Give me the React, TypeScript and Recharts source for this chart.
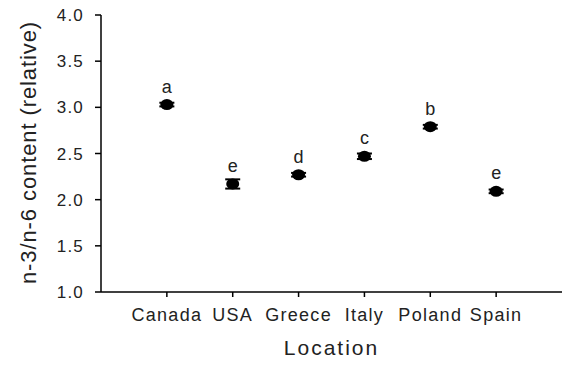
import { ScatterChart, Scatter, XAxis, YAxis, ErrorBar } from 'recharts'

const categories = ['Canada', 'USA', 'Greece', 'Italy', 'Poland', 'Spain']
const ratio = [3.03, 2.17, 2.27, 2.47, 2.79, 2.09]
const sem = [0.02, 0.05, 0.02, 0.03, 0.02, 0.02]
const groups = ['a', 'e', 'd', 'c', 'b', 'e']
const positions = [1, 2, 3, 4, 5, 6]
const yTicks = [1.0, 1.5, 2.0, 2.5, 3.0, 3.5, 4.0]

const data = categories.map((name, i) => ({
  pos: positions[i],
  name,
  ratio: ratio[i],
  sem: sem[i],
  group: groups[i],
}))

const FONT = '"Liberation Sans", Arial, sans-serif'
const INK = '#222'

function Point(props: any) {
  const { cx, cy, payload } = props
  return (
    <g>
      <ellipse cx={cx} cy={cy} rx={6.5} ry={5.5} fill="#000" />
      <text
        x={cx}
        y={cy - 12}
        textAnchor="middle"
        fontFamily={FONT}
        fontSize={18}
        fill={INK}
      >
        {payload.group}
      </text>
    </g>
  )
}

function YLabel(props: any) {
  const { viewBox } = props
  const x = viewBox.x + 28
  const y = viewBox.y + viewBox.height / 2 - 1
  return (
    <text
      x={x}
      y={y}
      transform={`rotate(-90 ${x} ${y})`}
      textAnchor="middle"
      dominantBaseline="central"
      fontFamily={FONT}
      fontSize={22}
      letterSpacing={0.9}
      fill={INK}
    >
      n-3/n-6 content (relative)
    </text>
  )
}

function XLabel(props: any) {
  const { viewBox } = props
  return (
    <text
      x={viewBox.x + viewBox.width / 2}
      y={viewBox.y + 63}
      textAnchor="middle"
      fontFamily={FONT}
      fontSize={21}
      letterSpacing={2}
      fill={INK}
    >
      Location
    </text>
  )
}

export default function App() {
  return (
    <div style={{ position: 'absolute', left: 0, top: 0, background: '#fff' }}>
      <ScatterChart
        width={563}
        height={366}
        margin={{ top: 15, right: 1, bottom: 14, left: 0 }}
      >
        <XAxis
          type="number"
          dataKey="pos"
          domain={[0, 7]}
          ticks={positions}
          tickFormatter={(v: number) => categories[v - 1]}
          height={60}
          stroke="#000"
          strokeWidth={1.5}
          tickSize={5}
          tickMargin={11}
          tick={{ fill: INK, fontSize: 18, fontFamily: FONT, letterSpacing: 1.3 }}
          label={{ content: XLabel }}
        />
        <YAxis
          type="number"
          dataKey="ratio"
          domain={[1, 4]}
          ticks={yTicks}
          tickFormatter={(v: number) => v.toFixed(1)}
          width={101}
          stroke="#000"
          strokeWidth={1.5}
          tickSize={6}
          tickMargin={11}
          tick={{ fill: INK, fontSize: 17, fontFamily: FONT, letterSpacing: 1.2 }}
          label={{ content: YLabel }}
        />
        <Scatter data={data} shape={Point} isAnimationActive={false}>
          <ErrorBar
            dataKey="sem"
            direction="y"
            width={7.5}
            stroke="#000"
            strokeWidth={2}
            isAnimationActive={false}
          />
        </Scatter>
      </ScatterChart>
    </div>
  )
}
